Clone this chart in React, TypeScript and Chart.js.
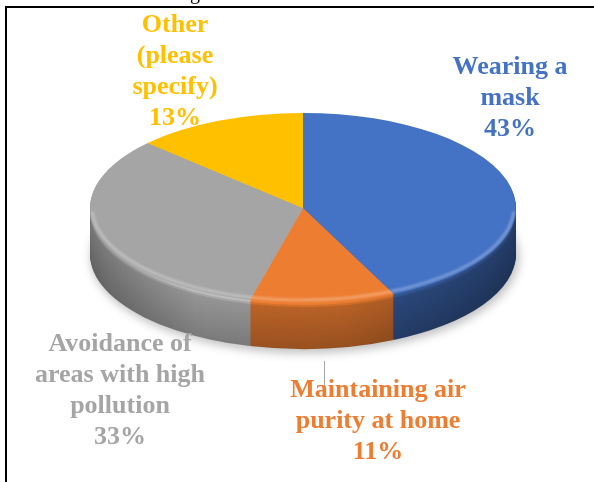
import React, { useEffect, useRef } from 'react';
import { Chart, registerables } from 'chart.js';

Chart.register(...registerables);

// ---- data ----
const categories = [
  'Wearing a mask',
  'Maintaining air purity at home',
  'Avoidance of areas with high pollution',
  'Other (please specify)',
];
const values = [43, 11, 33, 13];
const labelLines = [
  ['Wearing a', 'mask'],
  ['Maintaining air', 'purity at home'],
  ['Avoidance of', 'areas with high', 'pollution'],
  ['Other', '(please', 'specify)'],
];

// ---- style / layout ----
const sliceColors = ['#4472C4', '#ED7D31', '#A5A5A5', '#FFC000'];
const sideFactors = [0.66, 0.76, 0.86, 0.8];
const W = 594;
const H = 482;
const PIE_CX = 303;
const PIE_CY = 208;
const PIE_R = 213;
const PIE_RY = 95;
const DEPTH = 46;
const LINE_H = 31;
const FONT = 'bold 26px "Liberation Serif", "Times New Roman", serif';
const labelAnchors = [
  { x: 510, y: 67 },
  { x: 378, y: 390 },
  { x: 120, y: 344 },
  { x: 175, y: 25 },
];

function hexToRgb(h: string): number[] {
  const s = h.replace('#', '');
  return [0, 2, 4].map((i) => parseInt(s.slice(i, i + 2), 16));
}
function shade(hex: string, f: number): string {
  const [r, g, b] = hexToRgb(hex);
  const c = (v: number) => Math.max(0, Math.min(255, Math.round(v * f)));
  return `rgb(${c(r)},${c(g)},${c(b)})`;
}

const bgPlugin = {
  id: 'bg',
  beforeDraw(chart: any) {
    const ctx = chart.ctx;
    ctx.save();
    ctx.fillStyle = '#ffffff';
    ctx.fillRect(0, 0, chart.width, chart.height);
    ctx.restore();
  },
};

const pie3dPlugin = {
  id: 'pie3d',
  beforeDatasetsDraw(chart: any) {
    const ctx = chart.ctx as CanvasRenderingContext2D;
    const arcs = chart.getDatasetMeta(0).data as any[];
    ctx.save();
    if (!arcs.length) return;
    const a0 = arcs[0];
    const R = a0.outerRadius;
    const ox = a0.x;
    const oy = a0.y;
    const k = PIE_RY / R;

    // soft shadow under the pie
    ctx.save();
    ctx.filter = 'blur(5px)';
    ctx.fillStyle = 'rgba(0,0,0,0.25)';
    ctx.beginPath();
    ctx.ellipse(PIE_CX + 2, PIE_CY + DEPTH + 3, R + 1, PIE_RY + 1, 0, 0, Math.PI * 2);
    ctx.fill();
    ctx.restore();

    // side walls, layered from bottom to top
    for (let d = DEPTH; d >= 1; d--) {
      const t = d / DEPTH;
      let v = 1.04 - 0.2 * t;
      if (d <= 2) v = 1.3;
      else if (d <= 4) v = 1.15;
      arcs.forEach((arc: any, i: number) => {
        const base = sliceColors[i];
        const f = sideFactors[i] * v;
        const g = ctx.createLinearGradient(PIE_CX - R, 0, PIE_CX + R, 0);
        g.addColorStop(0, shade(base, f * 0.82));
        g.addColorStop(0.25, shade(base, f * 1.03));
        g.addColorStop(0.6, shade(base, f));
        g.addColorStop(1, shade(base, f * 0.78));
        ctx.fillStyle = g;
        ctx.beginPath();
        ctx.moveTo(PIE_CX, PIE_CY + d);
        ctx.ellipse(PIE_CX, PIE_CY + d, R, PIE_RY, 0, arc.startAngle, arc.endAngle);
        ctx.closePath();
        ctx.fill();
      });
    }

    // squash the chart's own arcs into the top face
    ctx.translate(PIE_CX, PIE_CY);
    ctx.scale(1, k);
    ctx.translate(-ox, -oy);
  },
  afterDatasetsDraw(chart: any) {
    const ctx = chart.ctx as CanvasRenderingContext2D;
    ctx.restore();
    const arcs = chart.getDatasetMeta(0).data as any[];
    if (!arcs.length) return;
    const R = arcs[0].outerRadius;
    // bevel highlight along the front rim of the top face
    ctx.save();
    ctx.filter = 'blur(1px)';
    ctx.strokeStyle = 'rgba(255,255,255,0.28)';
    ctx.lineWidth = 3;
    ctx.beginPath();
    ctx.ellipse(PIE_CX, PIE_CY - 1, R - 2, PIE_RY - 2, 0, 0.05, Math.PI - 0.05);
    ctx.stroke();
    ctx.restore();
  },
};

const labelsPlugin = {
  id: 'labels3d',
  afterDraw(chart: any) {
    const ctx = chart.ctx as CanvasRenderingContext2D;
    const total = values.reduce((a, b) => a + b, 0);
    ctx.save();
    // leader line
    ctx.strokeStyle = '#A6A6A6';
    ctx.lineWidth = 1;
    ctx.beginPath();
    ctx.moveTo(324.5, 361);
    ctx.lineTo(324.5, 386);
    ctx.stroke();

    ctx.font = FONT;
    ctx.textAlign = 'center';
    ctx.textBaseline = 'middle';
    values.forEach((v, i) => {
      const lines = [...labelLines[i], `${Math.round((v / total) * 100)}%`];
      ctx.fillStyle = sliceColors[i];
      lines.forEach((ln, j) => {
        ctx.fillText(ln, labelAnchors[i].x, labelAnchors[i].y + j * LINE_H);
      });
    });

    // frame
    ctx.fillStyle = '#000000';
    ctx.fillRect(6, 6, W - 6, 2);
    ctx.fillRect(5, 6, 2, H - 6);
    // cut-off title fragment
    ctx.textBaseline = 'alphabetic';
    ctx.font = '20px "Liberation Serif", serif';
    ctx.fillText('g', 195, -1);
    ctx.restore();
  },
};

export default function App() {
  const ref = useRef<HTMLCanvasElement | null>(null);
  useEffect(() => {
    if (!ref.current) return;
    const chart = new Chart(ref.current, {
      type: 'pie',
      data: {
        labels: categories,
        datasets: [
          {
            data: values,
            backgroundColor: sliceColors,
            borderWidth: 0,
            clip: false,
          } as any,
        ],
      },
      options: {
        responsive: false,
        animation: false,
        devicePixelRatio: 1,
        layout: {
          padding: {
            left: PIE_CX - PIE_R,
            right: W - PIE_CX - PIE_R,
            top: (H - 2 * PIE_R) / 2,
            bottom: (H - 2 * PIE_R) / 2,
          },
        },
        plugins: {
          legend: { display: false },
          tooltip: { enabled: false },
          title: { display: false },
        },
      },
      plugins: [bgPlugin, pie3dPlugin, labelsPlugin],
    });
    return () => chart.destroy();
  }, []);
  return (
    <div style={{ position: 'absolute', left: 0, top: 0, width: W, height: H }}>
      <canvas ref={ref} width={W} height={H} style={{ width: W, height: H, display: 'block' }} />
    </div>
  );
}
